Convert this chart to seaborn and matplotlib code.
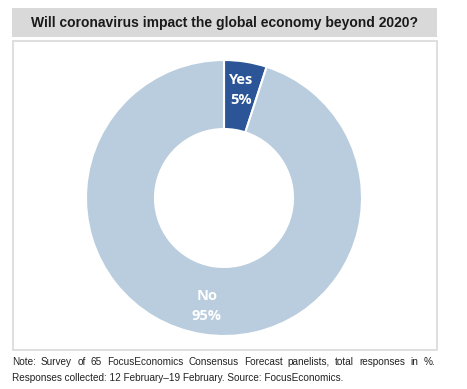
import matplotlib.pyplot as plt
import seaborn as sns
from matplotlib.patches import Rectangle

# data
answers = ["Yes", "No"]
shares = [5, 95]
colors = ["#2B5597", "#B9CDDE"]

title = "Will coronavirus impact the global economy beyond 2020?"
note_line1 = "Note: Survey of 65 FocusEconomics Consensus Forecast panelists, total responses in %."
note_line2 = "Responses collected: 12 February\u201319 February. Source: FocusEconomics."

sns.set_theme(style="white")
plt.rcParams['font.family'] = ['Liberation Sans', 'DejaVu Sans']

W, H = 467, 389
fig = plt.figure(figsize=(W / 100, H / 100), dpi=100)

# title band and chart frame (figure pixel coords -> fractions)
def box(x0, y0, x1, y1, **kw):
    fig.patches.append(Rectangle((x0 / W, 1 - y1 / H), (x1 - x0) / W, (y1 - y0) / H,
                                 transform=fig.transFigure, **kw))

box(12, 8, 437, 37, facecolor="#D9D9D9", edgecolor="none")
box(12.5, 40.5, 436.5, 350, facecolor="none", edgecolor="#D9D9D9", linewidth=1.2)
fig.text(224.5 / W, 1 - 23 / H, title, ha="center", va="center",
         fontsize=10, fontweight="bold", color="#1a1a1a")

# donut
cx, cy, r = 224, 198, 138
ax = fig.add_axes([(cx - r) / W, 1 - (cy + r) / H, 2 * r / W, 2 * r / H])
labels = [f"{a}\n{s}%" for a, s in zip(answers, shares)]
wedges, texts = ax.pie(shares, colors=colors, startangle=90, counterclock=False,
                       labels=labels, labeldistance=0.79,
                       wedgeprops=dict(width=0.5, edgecolor="white", linewidth=1.5),
                       textprops=dict(color="white", fontsize=10.5, fontweight="bold",
                                      ha="center", va="center", linespacing=1.55,
                                      family=["Open Sans", "DejaVu Sans"]))
ax.set_xlim(-1, 1)
ax.set_ylim(-1, 1)
ax.set_aspect("equal")
ax.axis("off")

# footnote, first line justified across the frame width
note_kw = dict(fontsize=7.2, color="#222222", va="center", ha="left")
renderer = fig.canvas.get_renderer()
words = note_line1.split(" ")
widths = []
tmp = []
for w in words:
    t = fig.text(0, 0, w, **note_kw)
    widths.append(t.get_window_extent(renderer).width)
    t.remove()
left, right = 12, 435
gap = (right - left - sum(widths)) / (len(words) - 1)
x = left
for w, wd in zip(words, widths):
    fig.text(x / W, 1 - 362 / H, w, **note_kw)
    x += wd + gap
fig.text(left / W, 1 - 378 / H, note_line2, **note_kw)

fig.savefig("out.png", dpi=100)
